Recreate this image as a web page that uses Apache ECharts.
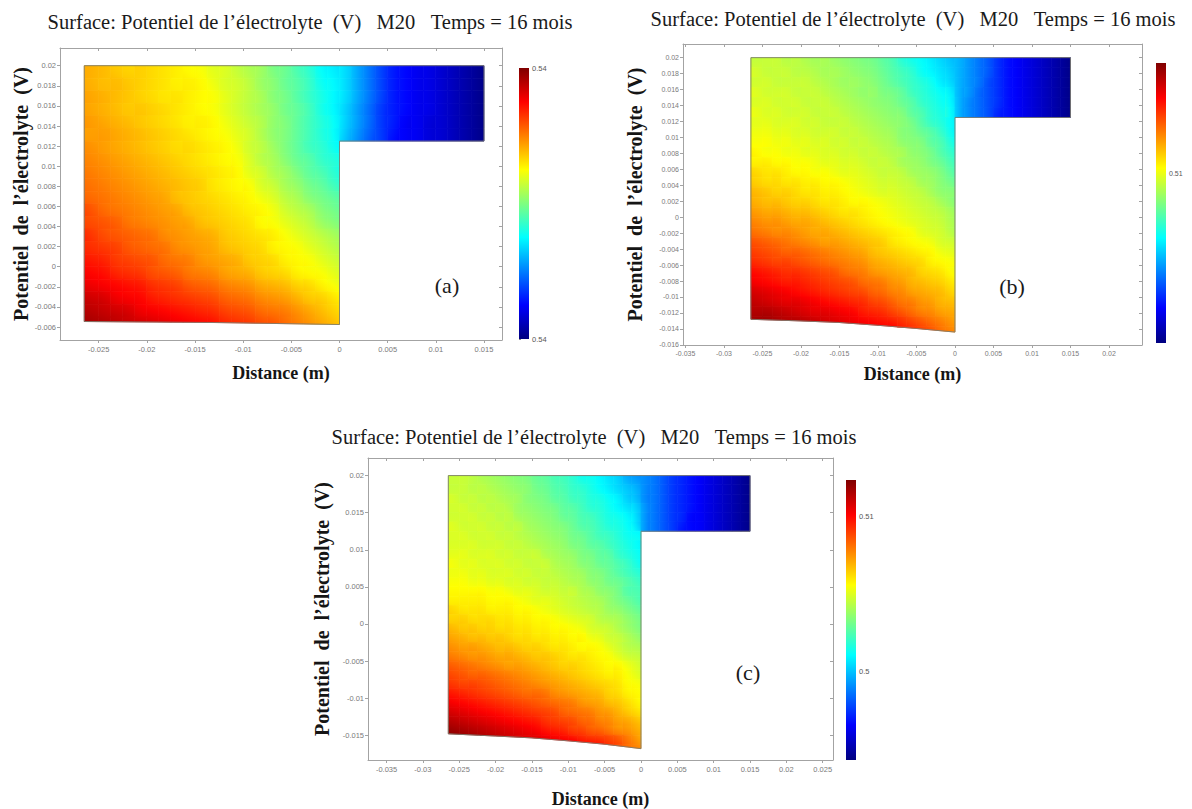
<!DOCTYPE html>
<html lang="fr">
<head>
<meta charset="utf-8">
<title>Potentiel de l’électrolyte – M20 – 16 mois</title>
<script src="https://cdn.jsdelivr.net/npm/echarts@6.0.0/dist/echarts.min.js"></script>
<style>
html,body{margin:0;padding:0;background:#fff;}
#chart{width:1192px;height:809px;}
</style>
</head>
<body>
<div id="chart"></div>
<script>
// ======================= DATA =======================
// sampling grid: cell centres in mm (shared by the three panels)
const xCells = [-25.625,-24.375,-23.125,-21.875,-20.625,-19.375,-18.125,-16.875,-15.625,-14.375,-13.125,
  -11.875,-10.625,-9.375,-8.125,-6.875,-5.625,-4.375,-3.125,-1.875,-0.625,
  0.625,1.875,3.125,4.375,5.625,6.875,8.125,9.375,10.625,11.875,13.125,14.375];
const yCells = [19.375,18.125,16.875,15.625,14.375,13.125,11.875,10.625,9.375,8.125,6.875,5.625,4.375,
  3.125,1.875,0.625,-0.625,-1.875,-3.125,-4.375,-5.625,-6.875,-8.125,-9.375,-10.625,-11.875,-13.125,
  -14.375,-15.625,-16.875];

// domain geometry (mm)
const domainLeft = -26.5, domainTop = 20, armBottom = 12.5, armRight = 15;
const bottomA = [[-26.5,-5.45],[-13,-5.55],[0,-5.75]];
const bottomB = [[-26.5,-12.8],[-20,-13.0],[-15,-13.2],[-10,-13.55],[-5,-13.95],[0,-14.4]];
const bottomC = [[-26.5,-14.8],[-20,-15.1],[-15,-15.35],[-10,-15.75],[-5,-16.2],[0,-16.8]];

// colour level of each cell (0 = bottom of colour bar, 100 = top)
// one string per row of yCells; 21 main-part cells, then (top rows) 12 arm cells; '-' = outside
const levelsA = [
"70 69 68 67 67 66 65 64 63 62 60 59 57 55 53 50 48 45 42 38 36 | 34 29 24 19 15 13 11 10 8 6 4 2",
"70 69 69 68 67 66 65 64 64 63 61 59 58 56 53 51 48 46 43 39 37 | 34 29 24 19 15 13 11 10 8 6 4 2",
"71 70 69 68 67 66 65 65 64 63 62 60 58 56 54 51 49 46 43 40 37 | 34 29 24 19 15 13 11 10 8 6 4 2",
"71 70 69 68 68 67 66 65 64 63 62 60 58 56 54 52 49 47 44 40 37 | 33 28 23 18 15 13 11 10 8 6 4 2",
"72 71 70 69 68 67 66 65 64 64 63 61 59 57 55 52 50 47 44 41 38 | 33 28 23 18 15 12 11 9 8 6 4 2",
"72 72 71 70 69 68 67 66 65 64 63 62 60 58 55 52 50 47 44 41 38 | 32 27 22 18 14 12 11 9 8 6 4 2",
"73 72 71 70 69 68 67 66 66 65 64 63 61 58 56 53 50 47 44 42 39",
"74 73 72 71 70 69 68 67 66 65 64 63 62 59 56 54 51 48 46 43 41",
"75 74 73 72 71 70 69 68 67 66 65 64 63 60 58 55 53 50 47 45 42",
"76 75 74 73 72 71 70 69 68 67 65 64 63 62 59 57 54 52 49 47 44",
"77 76 75 74 73 72 71 69 68 67 66 65 64 63 61 59 56 54 51 49 47",
"79 77 76 75 74 73 72 71 69 68 67 66 65 64 63 61 58 56 54 51 49",
"80 79 78 76 75 74 73 72 71 69 68 67 66 65 63 62 60 58 56 53 51",
"82 80 79 78 77 76 74 73 72 71 70 68 67 66 65 64 62 60 58 56 54",
"83 82 81 79 78 77 76 74 73 72 71 69 68 67 66 64 63 62 60 58 56",
"85 84 82 81 80 79 77 76 75 73 72 71 70 68 67 66 64 63 62 60 58",
"87 86 84 83 82 80 79 78 76 75 74 72 71 70 68 67 66 64 63 62 60",
"89 88 87 86 85 83 82 81 79 78 77 75 74 73 71 70 69 67 66 64 62",
"92 91 89 88 87 85 84 83 82 81 80 78 77 76 74 73 72 70 68 67 65",
"94 93 92 91 89 88 87 86 85 84 83 81 80 79 77 76 75 73 71 69 67",
"96 95 94 93 92 91 90 89 88 87 86 84 83 82 80 79 77 75 73 71 69"
];
const levelsB = [
"57 57 57 56 56 55 54 54 53 52 51 50 49 47 45 42 40 38 36 34 32 | 30 27 24 21 17 14 12 10 8 6 4 2",
"58 57 57 57 56 56 55 54 54 53 52 51 50 48 46 44 42 39 37 35 33 | 30 27 24 21 17 14 12 10 8 6 4 2",
"58 58 57 57 57 57 56 55 54 53 53 52 51 49 47 45 43 41 39 36 34 | 30 27 24 20 17 14 12 10 8 6 4 2",
"59 58 58 58 57 57 57 56 55 54 53 52 52 50 49 47 44 42 40 38 36 | 30 27 23 20 17 14 12 10 8 6 4 2",
"59 59 58 58 58 57 57 57 56 55 54 53 52 51 50 48 46 43 41 39 37 | 30 26 23 20 17 14 12 10 8 6 4 2",
"60 59 59 58 58 58 57 57 57 56 55 54 53 52 51 50 47 45 42 40 38 | 30 26 23 20 16 14 12 10 8 6 4 2",
"60 60 59 59 59 58 58 57 57 57 56 55 54 53 52 51 49 46 43 41 38",
"61 61 60 60 59 59 58 58 58 57 57 56 55 54 53 51 50 48 46 43 39",
"62 62 61 61 60 60 59 59 58 58 57 57 56 55 54 52 51 50 47 45 41",
"63 62 62 61 61 60 60 59 59 58 58 57 57 56 55 54 52 51 49 46 43",
"64 64 63 63 62 62 61 60 60 59 59 58 57 57 56 54 53 52 50 48 45",
"66 65 65 64 63 63 62 62 61 60 60 59 58 57 57 56 54 53 52 50 47",
"67 66 66 65 65 64 64 63 63 62 61 60 59 58 58 57 56 54 53 51 49",
"69 68 67 67 66 65 65 64 64 63 62 61 60 59 59 58 57 56 54 52 51",
"70 69 69 68 67 67 66 65 65 64 63 63 62 61 60 59 58 57 56 54 52",
"72 71 71 70 69 69 68 67 66 65 65 64 63 62 61 60 59 58 57 56 54",
"74 73 73 72 71 71 70 69 68 67 66 65 64 63 62 61 60 59 58 57 55",
"76 75 74 74 73 72 71 71 70 69 68 67 66 65 64 63 62 60 59 58 56",
"79 78 77 76 75 74 73 72 72 71 70 69 68 67 65 64 63 62 61 59 58",
"81 80 79 78 78 77 76 75 74 73 72 71 69 68 67 66 65 64 63 61 60",
"83 82 81 81 80 79 78 77 76 75 74 73 71 70 69 68 67 66 64 63 62",
"86 85 84 83 83 82 81 80 79 77 76 75 73 72 71 70 69 67 66 65 63",
"88 87 86 85 85 84 83 82 81 80 79 77 76 75 73 72 70 69 68 67 65",
"91 90 89 88 87 86 85 84 83 82 81 80 78 77 75 74 72 71 70 69 67",
"93 92 91 90 90 89 88 87 86 85 84 83 81 80 78 76 75 73 72 70 69",
"95 95 94 93 92 91 90 90 89 88 87 85 84 83 81 79 77 75 74 72 71",
"97 97 96 95 95 94 93 92 91 90 89 88 87 86 85 83 81 79 77 75 73",
"- - - - - - - - - - - - - - - 85 84 82 80 77 75"
];
const levelsC = [
"57 57 56 55 54 53 52 51 50 48 47 45 44 42 40 39 37 35 33 30 28 | 26 24 21 18 16 14 12 10 8 6 4 2",
"57 57 56 56 55 54 53 52 51 49 48 46 45 43 42 40 38 36 34 32 30 | 26 24 21 18 16 14 12 10 8 6 4 2",
"58 57 57 56 56 55 54 53 51 50 49 47 46 44 43 41 40 38 36 33 31 | 26 24 21 18 16 14 12 10 8 6 4 2",
"58 58 57 57 56 56 55 53 52 51 50 49 47 46 44 42 41 39 37 35 33 | 27 24 21 18 16 14 12 10 8 6 4 2",
"58 58 58 57 57 56 56 54 53 52 51 50 48 47 45 44 42 40 39 37 34 | 27 24 21 18 16 13 12 10 8 6 4 2",
"59 58 58 58 57 57 56 56 54 53 52 51 50 48 46 45 43 41 40 38 35 | 27 24 21 18 15 13 12 10 8 6 4 2",
"59 59 58 58 58 57 57 56 55 54 53 52 51 49 48 46 44 43 41 39 38",
"59 59 59 58 58 58 57 57 56 55 54 53 52 50 49 47 46 44 42 40 38",
"60 60 59 59 59 58 58 57 57 57 55 54 53 52 50 49 47 46 43 41 39",
"61 60 60 59 59 59 58 58 57 57 57 55 54 53 51 50 48 47 45 43 40",
"61 61 60 60 59 59 59 58 58 57 57 56 55 54 53 51 50 48 46 44 42",
"62 62 61 61 60 60 59 59 58 58 57 57 56 55 54 52 51 49 48 46 44",
"63 63 63 63 62 62 61 60 60 59 58 58 57 57 55 54 52 51 49 46 45",
"64 64 64 64 63 63 63 62 61 60 60 59 58 57 56 55 54 52 50 48 46",
"66 65 65 65 64 64 64 63 63 62 61 60 59 58 57 56 55 53 52 50 48",
"67 67 66 66 66 65 65 64 64 63 63 62 61 60 59 58 56 55 54 52 50",
"69 68 68 67 67 66 66 65 65 64 64 63 63 62 61 59 58 57 55 53 51",
"71 70 69 69 68 68 67 66 66 65 65 64 64 63 63 61 60 58 57 55 53",
"73 72 72 71 70 69 69 68 67 67 66 65 65 64 63 63 62 60 58 56 55",
"75 74 73 73 72 71 71 70 69 68 68 67 66 65 65 64 63 62 60 58 57",
"78 77 76 75 74 73 72 72 71 70 69 68 67 67 66 65 64 63 63 61 59",
"80 79 78 78 77 76 75 74 73 72 71 70 69 68 67 66 65 64 64 62 60",
"82 81 81 80 79 78 77 76 75 74 73 72 71 70 69 68 67 66 65 63 62",
"85 84 83 82 81 80 79 78 77 77 76 74 73 72 71 70 69 67 66 64 63",
"88 87 86 85 84 83 82 81 80 79 78 77 76 75 73 72 71 69 68 66 64",
"91 90 89 88 87 86 85 84 83 82 81 80 78 77 76 75 73 72 70 68 66",
"94 93 92 91 90 89 88 87 86 85 83 82 81 80 78 77 75 74 72 71 69",
"97 96 95 94 93 92 91 90 89 88 86 85 84 82 81 79 78 76 74 73 71",
"- - - 96 95 94 93 92 91 91 90 89 88 87 85 84 83 81 79 76 73",
"- - - - - - - - - - - - - - - - - 82 80 77 75"
];

// axis tick labels (m)
const xTicksA = [-0.025,-0.02,-0.015,-0.01,-0.005,0,0.005,0.01,0.015];
const yTicksA = [-0.006,-0.004,-0.002,0,0.002,0.004,0.006,0.008,0.01,0.012,0.014,0.016,0.018,0.02];
const xTicksB = [-0.035,-0.03,-0.025,-0.02,-0.015,-0.01,-0.005,0,0.005,0.01,0.015,0.02];
const yTicksB = [-0.016,-0.014,-0.012,-0.01,-0.008,-0.006,-0.004,-0.002,0,0.002,0.004,0.006,0.008,0.01,0.012,0.014,0.016,0.018,0.02];
const xTicksC = [-0.035,-0.03,-0.025,-0.02,-0.015,-0.01,-0.005,0,0.005,0.01,0.015,0.02,0.025];
const yTicksC = [-0.015,-0.01,-0.005,0,0.005,0.01,0.015,0.02];

// colour bars (V)
const colorRangeA = [0.5396, 0.5404], colorLabelsA = [0.5396, 0.5404];
const colorRangeB = [0.5003, 0.5163], colorLabelsB = [0.51];
const colorRangeC = [0.49429, 0.51237], colorLabelsC = [0.5, 0.51];
const jetColors = ['#00007f','#0000ff','#007fff','#00ffff','#7fff7f','#ffff00','#ff7f00','#ff0000','#7f0000'];

// texts
const titleText = 'Surface: Potentiel de l’électrolyte\u00a0\u00a0(V)\u00a0\u00a0\u00a0M20\u00a0\u00a0\u00a0Temps = 16 mois';
const yName = 'Potentiel\u00a0\u00a0de\u00a0\u00a0l’électrolyte\u00a0\u00a0(V)';
const xName = 'Distance (m)';

// ======================= LAYOUT =======================
const panels = [
  {tag:'(a)', levels:levelsA, bottom:bottomA, xTicks:xTicksA, yTicks:yTicksA, range:colorRangeA, cbLabels:colorLabelsA,
   grid:{left:60, top:48, width:442, height:292}, xr:[-0.02902,0.01687], yr:[-0.00729,0.02176],
   cb:{left:519, top:68, width:10, height:271}, gapX:24, gapY:28, title:[310,22], tagPos:[447,285], tickFont:7.5},
  {tag:'(b)', levels:levelsB, bottom:bottomB, xTicks:xTicksB, yTicks:yTicksB, range:colorRangeB, cbLabels:colorLabelsB,
   grid:{left:683, top:44, width:459, height:301}, xr:[-0.03532,0.02429], yr:[-0.01602,0.02171],
   cb:{left:1156, top:63, width:10, height:280}, gapX:20, gapY:38, title:[913,19], tagPos:[1012,286], tickFont:7},
  {tag:'(c)', levels:levelsC, bottom:bottomC, xTicks:xTicksC, yTicks:yTicksC, range:colorRangeC, cbLabels:colorLabelsC,
   grid:{left:368, top:458, width:465, height:304}, xr:[-0.03755,0.02641], yr:[-0.01833,0.02237],
   cb:{left:846, top:480, width:10, height:280}, gapX:30, gapY:36, title:[594,437], tagPos:[748,672], tickFont:7.5}
];

// ---------- helpers ----------
const jetRGB = jetColors.map(h => [parseInt(h.slice(1,3),16), parseInt(h.slice(3,5),16), parseInt(h.slice(5,7),16)]);
function jetColor(level) {
  const t = Math.max(0, Math.min(100, level)) / 100 * (jetRGB.length - 1);
  const i = Math.min(jetRGB.length - 2, Math.floor(t)), f = t - i;
  const a = jetRGB[i], b = jetRGB[i+1];
  return 'rgb(' + [0,1,2].map(k => Math.round(a[k] + (b[k]-a[k]) * f)).join(',') + ')';
}
function bottomAt(bottom, x) {
  if (x <= bottom[0][0]) return bottom[0][1];
  for (let i = 1; i < bottom.length; i++) {
    if (x <= bottom[i][0]) {
      const a = bottom[i-1], b = bottom[i];
      return a[1] + (b[1]-a[1]) * (x-a[0]) / (b[0]-a[0]);
    }
  }
  return bottom[bottom.length-1][1];
}
function clipKeep(poly, f) {
  const out = [];
  for (let k = 0; k < poly.length; k++) {
    const p = poly[k], q = poly[(k+1) % poly.length];
    const fp = f(p), fq = f(q);
    if (fp >= 0) out.push(p);
    if ((fp >= 0) !== (fq >= 0)) {
      const t = fp / (fp - fq);
      out.push([p[0] + t*(q[0]-p[0]), p[1] + t*(q[1]-p[1])]);
    }
  }
  return out;
}
// local slope of the read levels (per mm) from neighbouring cells, used only for shading each cell
function slope(get, i, j, di, dj, step) {
  const v = get(i, j), a = get(i - di, j - dj), b = get(i + di, j + dj);
  if (a != null && b != null) return (b - a) / (2 * step);
  if (b != null) return (b - v) / step;
  if (a != null) return (v - a) / step;
  return 0;
}
function buildCells(levels, bottom) {
  const grid = levels.map(row => row.split(/\s+/).filter(s => s && s !== '|').map(s => s === '-' ? null : +s));
  const get = (i, j) => (j >= 0 && j < grid.length && i >= 0 && i < grid[j].length) ? grid[j][i] : null;
  const cells = [];
  grid.forEach((vals, j) => {
    const yt = j === 0 ? domainTop : (yCells[j-1] + yCells[j]) / 2;
    const yb = j + 1 < yCells.length ? (yCells[j] + yCells[j+1]) / 2 : yCells[j] - (yCells[j-1]-yCells[j]) / 2;
    vals.forEach((v, i) => {
      if (v == null) return;
      const xl = i === 0 ? domainLeft : (xCells[i-1] + xCells[i]) / 2;
      const xr = i === xCells.length - 1 ? armRight : (xCells[i] + xCells[i+1]) / 2;
      let poly = [[xl,yt],[xr,yt],[xr,yb],[xl,yb]];
      if (xCells[i] < 0) {
        const bl = bottomAt(bottom, xl), br = bottomAt(bottom, xr);
        poly = clipKeep(poly, p => p[1] - (bl + (br-bl) * (p[0]-xl) / (xr-xl)));
      }
      if (poly.length < 3) return;
      cells.push({poly: poly.map(p => [p[0]/1000, p[1]/1000]),
                  gx: slope(get, i, j, 1, 0, 1.25),      // level per mm, +x
                  gy: -slope(get, i, j, 0, 1, 1.25),     // level per mm, +y (rows go downward)
                  value: [xCells[i]/1000, yCells[j]/1000, v]});
    });
  });
  return cells;
}
function outlineOf(bottom) {
  const pts = [[domainLeft,domainTop],[armRight,domainTop],[armRight,armBottom],[0,armBottom]];
  for (let i = bottom.length - 1; i >= 0; i--) pts.push(bottom[i]);
  pts.push([domainLeft,domainTop]);
  return pts.map(p => [p[0]/1000, p[1]/1000]);
}
const fmtTick = v => String(+(+v).toFixed(4));
const fmtBar = v => String(+(+v).toFixed(2));

// ---------- chart ----------
const chart = echarts.init(document.getElementById('chart'), null, {renderer:'svg', width:1192, height:809});
const option = {animation:false, backgroundColor:'#fff', grid:[], xAxis:[], yAxis:[], series:[], graphic:[]};
const axisGrey = '#a3a3a3', labelGrey = '#7a7a7a';
const serif = '"Liberation Serif","DejaVu Serif",serif';
const sans = '"Liberation Sans","DejaVu Sans",sans-serif';

panels.forEach((p) => {
  const gMain = option.grid.length;
  option.grid.push(Object.assign({containLabel:false}, p.grid));
  const gBar = option.grid.length;
  option.grid.push(Object.assign({containLabel:false}, p.cb));

  const xi = option.xAxis.length;
  const common = {type:'value', splitLine:{show:false}, axisLine:{onZero:false, lineStyle:{color:axisGrey, width:1}}};
  option.xAxis.push(Object.assign({}, common, {gridIndex:gMain, min:p.xr[0], max:p.xr[1], position:'bottom',
    axisTick:{show:true, customValues:p.xTicks, length:3, lineStyle:{color:axisGrey}},
    axisLabel:{customValues:p.xTicks, formatter:fmtTick, fontSize:p.tickFont, color:labelGrey, margin:5, fontFamily:sans},
    name:xName, nameLocation:'middle', nameGap:p.gapX,
    nameTextStyle:{fontFamily:serif, fontWeight:'bold', fontSize:18, color:'#151515'}}));
  option.xAxis.push(Object.assign({}, common, {gridIndex:gMain, min:p.xr[0], max:p.xr[1], position:'top',
    axisTick:{show:true, customValues:p.xTicks, inside:true, length:3, lineStyle:{color:axisGrey}},
    axisLabel:{show:false}}));
  option.xAxis.push({type:'value', gridIndex:gBar, min:0, max:1, show:false});

  const yi = option.yAxis.length;
  option.yAxis.push(Object.assign({}, common, {gridIndex:gMain, min:p.yr[0], max:p.yr[1], position:'left',
    axisTick:{show:true, customValues:p.yTicks, length:3, lineStyle:{color:axisGrey}},
    axisLabel:{customValues:p.yTicks, formatter:fmtTick, fontSize:p.tickFont, color:labelGrey, margin:4, fontFamily:sans},
    name:yName, nameLocation:'middle', nameGap:p.gapY,
    nameTextStyle:{fontFamily:serif, fontWeight:'bold', fontSize:20, color:'#151515'}}));
  option.yAxis.push(Object.assign({}, common, {gridIndex:gMain, min:p.yr[0], max:p.yr[1], position:'right',
    axisTick:{show:true, customValues:p.yTicks, inside:true, length:3, lineStyle:{color:axisGrey}},
    axisLabel:{show:false}}));
  option.yAxis.push({type:'value', gridIndex:gBar, min:p.range[0], max:p.range[1], position:'right',
    splitLine:{show:false}, axisLine:{show:false},
    axisTick:{show:true, customValues:p.cbLabels, length:2, lineStyle:{color:'#888'}},
    axisLabel:{customValues:p.cbLabels, formatter:fmtBar, fontSize:p.tickFont, color:'#555', margin:3, fontFamily:sans}});

  const cells = buildCells(p.levels, p.bottom);
  option.series.push({type:'custom', xAxisIndex:xi, yAxisIndex:yi, z:2, silent:true,
    data: cells.map(c => c.value),
    renderItem: (params, api) => {
      const c = cells[params.dataIndex];
      const pts = c.poly.map(q => api.coord(q));
      const ctr = api.coord([c.value[0], c.value[1]]);
      const s = api.size([0.001, 0.001]);           // px per mm
      const Gx = c.gx / s[0], Gy = -c.gy / s[1];      // level per px (screen y down)
      const g = Math.hypot(Gx, Gy);
      let fill;
      if (g < 1e-6) {
        fill = jetColor(c.value[2]);
      } else {
        const L = 1.3 * Math.max(s[0], s[1]);
        const ux = Gx / g, uy = Gy / g;
        const v0 = c.value[2] - g * L, v1 = c.value[2] + g * L;
        const stops = [0, 0.25, 0.5, 0.75, 1].map(t => ({offset:t, color: jetColor(v0 + t * (v1 - v0))}));
        fill = new echarts.graphic.LinearGradient(ctr[0] - ux*L, ctr[1] - uy*L, ctr[0] + ux*L, ctr[1] + uy*L, stops, true);
      }
      return {type:'polygon', shape:{points:pts}, style:{fill:fill, stroke:fill, lineWidth:0.8}};
    }});
  option.series.push({type:'line', xAxisIndex:xi, yAxisIndex:yi, z:3, silent:true, symbol:'none',
    data: outlineOf(p.bottom), lineStyle:{color:'#7c7c6e', width:0.9}});
  option.series.push({type:'custom', xAxisIndex:xi+2, yAxisIndex:yi+2, z:2, silent:true,
    data:[[0, p.range[0], 1, p.range[1]]], encode:{x:[0,2], y:[1,3]},
    renderItem: (params, api) => {
      const a = api.coord([api.value(0), api.value(1)]);
      const b = api.coord([api.value(2), api.value(3)]);
      const stops = jetColors.slice().reverse().map((c, i, arr) => ({offset: i/(arr.length-1), color: c}));
      return {type:'rect', shape:{x:Math.min(a[0],b[0]), y:Math.min(a[1],b[1]), width:Math.abs(b[0]-a[0]), height:Math.abs(b[1]-a[1])},
              style:{fill: new echarts.graphic.LinearGradient(0,0,0,1,stops)}};
    }});

  option.graphic.push({type:'text', x:p.title[0], y:p.title[1], silent:true,
    style:{text:titleText, fontFamily:serif, fontSize:20.5, fill:'#1a1a1a', align:'center', verticalAlign:'middle', textAlign:'center', textVerticalAlign:'middle'}});
  option.graphic.push({type:'text', x:p.tagPos[0], y:p.tagPos[1], silent:true, z:10,
    style:{text:p.tag, fontFamily:serif, fontSize:22, fill:'#1a1a1a', align:'center', verticalAlign:'middle', textAlign:'center', textVerticalAlign:'middle'}});
});

chart.setOption(option);
</script>
</body>
</html>
